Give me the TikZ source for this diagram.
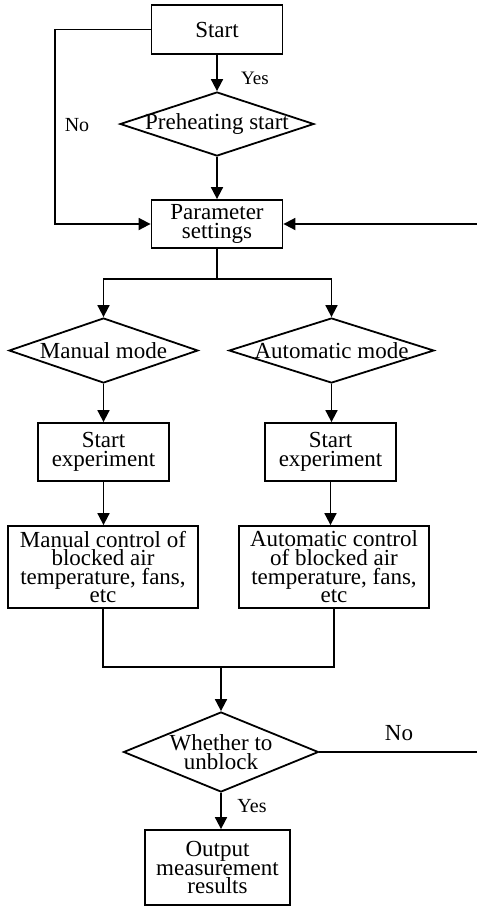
\documentclass[tikz,border=0pt]{standalone}
\usepackage{fontspec}
\setmainfont{Liberation Serif}
\usetikzlibrary{shapes.geometric,arrows.meta}

\begin{document}
\begin{tikzpicture}[x=0.5pt,y=-0.5pt,>={Triangle[length=6pt,width=6pt]},line width=0.9pt,
		font=\fontsize{11.5}{9.3}\selectfont,
		box/.style={draw,rectangle,align=center,inner sep=0pt},
		dec/.style={draw,diamond,inner sep=0pt},
		lab/.style={font=\fontsize{10}{10}\selectfont}]
		\useasboundingbox (0,0) rectangle (477,907);
		%\draw[gray!40,thin] (0,0) grid[step=50] (477,907);
		\node[box,minimum width=65.5pt,minimum height=24.5pt] (start) at (217,29.5) {Start};
		\node[dec,minimum width=97pt,minimum height=32pt,label={center:Preheating start}] (pre) at (217,124) {};
		\node[box,minimum width=65.5pt,minimum height=24pt] (param) at (217,224) {Parameter\\settings};
		\node[dec,minimum width=94.5pt,minimum height=32.5pt,label={center:Manual mode}] (manual) at (103.5,350.5) {};
		\node[dec,minimum width=102.5pt,minimum height=32.5pt,label={center:Automatic mode}] (auto) at (331.5,350.5) {};
		\node[box,minimum width=65.5pt,minimum height=29pt] (expL) at (103.5,452) {Start\\experiment};
		\node[box,minimum width=65.5pt,minimum height=29pt] (expR) at (330.5,452) {Start\\experiment};
		\node[box,minimum width=95pt,minimum height=41pt] (ctrlL) at (103,567) {Manual control of\\blocked air\\temperature, fans,\\etc};
		\node[box,minimum width=95pt,minimum height=41pt] (ctrlR) at (334,567) {Automatic control\\of blocked air\\temperature, fans,\\etc};
		\node[dec,minimum width=97.5pt,minimum height=40pt,label={[align=center]center:Whether to\\unblock}] (unblock) at (221,752) {};
		\node[box,minimum width=72.5pt,minimum height=37.5pt] (out) at (217.5,867.5) {Output\\measurement\\results};
		
		\node[lab,font=\fontsize{9.5}{9.5}\selectfont] (yes1) at (255,78) {Yes};
		\node[lab] (no1) at (77,125) {No};
		\node (no2) at (399,733) {No};
		\node[lab] (yes2) at (252,806) {Yes};
		
		\draw[->] (start.south -| pre.north)--(pre.north);
		\draw[->] (pre.south)--(pre.south |- param.north);
		\draw[->] (start.west)--++(-96,0) |- (param.west);
		\coordinate (fbin) at (477,224);
		\draw[->] (fbin)--(param.east);
		\draw (param.south)--++(0,30) coordinate (split);
		\draw[->] (split) -| (manual.north);
		\draw[->] (split) -| (auto.north);
		\draw[->] (manual.south)--(manual.south |- expL.north);
		\draw[->] (auto.south)--(auto.south |- expR.north);
		\draw[->] (expL.south)--(expL.south |- ctrlL.north);
		\draw[->] (expR.south)--(expR.south |- ctrlR.north);
		\coordinate (join) at (unblock.north |- 0,667);
		\draw (ctrlL.south) |- (join);
		\draw (ctrlR.south) |- (join);
		\draw[->] (join)--(unblock.north);
		\coordinate (fbout) at (477,752);
		\draw (unblock.east)--(fbout);
		\draw[->] (unblock.south)--(unblock.south |- out.north);
	\end{tikzpicture}
\end{document}
